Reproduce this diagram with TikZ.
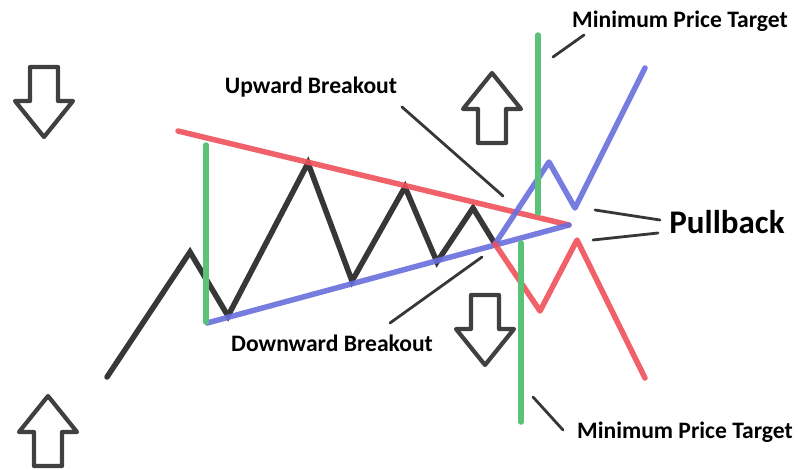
\documentclass[tikz,border=0pt]{standalone}
\usepackage{fontspec}
\setmainfont{Carlito}
\usepackage{xcolor}
\definecolor{pricegray}{RGB}{55,55,55}
\definecolor{arrowgray}{RGB}{64,64,64}
\definecolor{resred}{RGB}{240,80,90}
\definecolor{supblue}{RGB}{105,110,220}
\definecolor{targetgreen}{RGB}{90,195,120}
\usepackage{tikz}
\usetikzlibrary{calc}

\begin{document}
\begin{tikzpicture}[
  x=1pt, y=-1pt,
  price/.style={draw=pricegray, line width=5.5pt, line cap=round, line join=miter},
  resline/.style={draw=resred, line width=5.5pt, line cap=round, line join=round, opacity=0.9},
  supline/.style={draw=supblue, line width=5.5pt, line cap=round, line join=round, opacity=0.9},
  target/.style={draw=targetgreen, line width=5.5pt, line cap=round},
  pointer/.style={draw=pricegray, line width=2.8pt, line cap=round},
  lbl/.style={font=\fontsize{23.6}{26}\selectfont\bfseries, text=black, inner sep=0pt},
  biglbl/.style={font=\fontsize{33}{36}\selectfont\bfseries, text=black, inner sep=0pt},
  blockup/.pic={\draw[draw=arrowgray, fill=white, line width=4.2pt, line join=round]
    (0,0) -- (29,36) -- (14,36) -- (14,70) -- (-14,70) -- (-14,36) -- (-29,36) -- cycle;},
  blockdown/.pic={\draw[draw=arrowgray, fill=white, line width=4.2pt, line join=round]
    (0,0) -- (29,-36) -- (14,-36) -- (14,-70) -- (-14,-70) -- (-14,-36) -- (-29,-36) -- cycle;}
]
  \useasboundingbox[fill=white] (0,0) rectangle (798,469);

  % direction arrows
  \pic at (44,137) {blockdown};
  \pic at (48,396) {blockup};
  \pic at (492,73) {blockup};
  \pic at (485,365) {blockdown};

  % price path
  \coordinate (p0) at (107,377);
  \coordinate (p1) at (190,252);
  \coordinate (p2) at (228,316);
  \coordinate (p3) at (308,163);
  \coordinate (p4) at (352,281);
  \coordinate (p5) at (405,187);
  \coordinate (p6) at (437,262);
  \coordinate (p7) at (473,208);
  \coordinate (apex) at (495,244);
  \draw[price] (p0) -- (p1) -- (p2) -- (p3) -- (p4) -- (p5) -- (p6) -- (p7) -- (apex);

  % trendlines
  \coordinate (resstart) at (178,131);
  \coordinate (supstart) at (207,323);
  \coordinate (meet) at (569,225);
  \draw[resline] (resstart) -- (meet);
  \draw[supline] (supstart) -- (meet);

  % breakouts
  \coordinate (u1) at (549,162);
  \coordinate (u2) at (575,208);
  \coordinate (u3) at (645,68);
  \coordinate (d1) at (540,311);
  \coordinate (d2) at (577,240);
  \coordinate (d3) at (645,378);
  \draw[supline] (apex) -- (u1) -- (u2) -- (u3);
  \draw[resline] (apex) -- (d1) -- (d2) -- (d3);

  % price targets
  \draw[target] (206,145) -- (206,322);
  \draw[target] (538,35) -- (538,213);
  \draw[target] (521,243) -- (521,422);

  % labels
  \node[lbl] (upbreak) at (311,87) {Upward Breakout};
  \node[lbl] (downbreak) at (332,343) {Downward Breakout};
  \node[lbl] (targettop) at (680,21) {Minimum Price Target};
  \node[lbl] (targetbot) at (685,432) {Minimum Price Target};
  \node[biglbl] (pullback) at (727,222) {Pullback};

  % pointers
  \coordinate (upa) at (402,107);  \coordinate (upb) at (503,196);
  \coordinate (dna) at (390,323);  \coordinate (dnb) at (482,257);
  \coordinate (tta) at (553,57);   \coordinate (ttb) at (584,35);
  \coordinate (tba) at (533,397);  \coordinate (tbb) at (563,430);
  \coordinate (pba) at (595,210);  \coordinate (pbb) at (660,220);
  \coordinate (pbc) at (593,240);  \coordinate (pbd) at (658,233);
  \draw[pointer] (upa) -- (upb);
  \draw[pointer] (dna) -- (dnb);
  \draw[pointer] (tta) -- (ttb);
  \draw[pointer] (tba) -- (tbb);
  \draw[pointer] (pba) -- (pbb);
  \draw[pointer] (pbc) -- (pbd);
\end{tikzpicture}
\end{document}
